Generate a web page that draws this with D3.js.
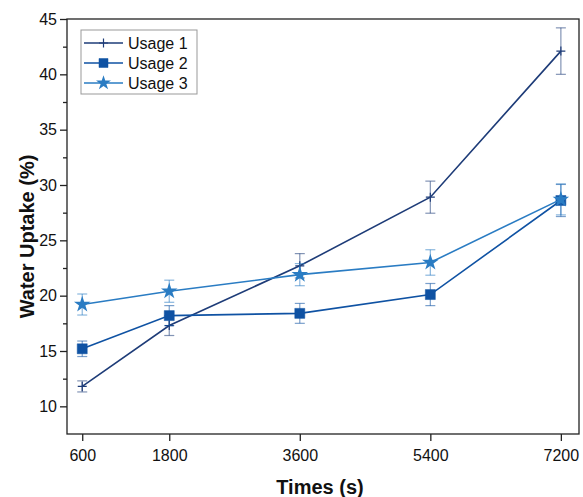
<!DOCTYPE html>
<html><head><meta charset="utf-8">
<script src="https://cdn.jsdelivr.net/npm/d3@7"></script>
<style>body{margin:0;background:#fff}svg{display:block;font-family:"Liberation Sans",Arial,sans-serif}</style>
</head><body><svg id="c" width="583" height="497"></svg>
<script>
const times = [600, 1800, 3600, 5400, 7200];
const seriesNames = ["Usage 1", "Usage 2", "Usage 3"];
const usage1 = [11.8, 17.3, 22.7, 28.9, 42.1];
const usage1Err = [0.5, 0.9, 1.1, 1.45, 2.1];
const usage2 = [15.2, 18.2, 18.4, 20.1, 28.6];
const usage2Err = [0.7, 0.9, 0.9, 1.0, 1.45];
const usage3 = [19.2, 20.4, 21.9, 23.0, 28.7];
const usage3Err = [0.95, 1.0, 1.0, 1.15, 1.4];
const yTicks = [10, 15, 20, 25, 30, 35, 40, 45];
const yMinor = [12.5, 17.5, 22.5, 27.5, 32.5, 37.5, 42.5];
const colors = ["#1e3c78", "#0f52a3", "#2a7cc3"];

const svg = d3.select("#c");
const L = 67, R = 579, T = 19, B = 434;
const x = d3.scaleLinear().domain([390, 7450]).range([L, R]);
const y = d3.scaleLinear().domain([7.5, 45]).range([B, T]);

// axes
const gy = svg.append("g").attr("transform", `translate(${L},0)`)
  .call(d3.axisLeft(y).tickValues(yTicks).tickSize(7).tickPadding(3).tickFormat(d3.format("d")));
const gym = svg.append("g").attr("transform", `translate(${L},0)`)
  .call(d3.axisLeft(y).tickValues(yMinor).tickSize(4).tickFormat(""));
const gx = svg.append("g").attr("transform", `translate(0,${B})`)
  .call(d3.axisBottom(x).tickValues(times).tickSize(7).tickPadding(9).tickFormat(d3.format("d")));
[gy, gym, gx].forEach(g => {
  g.select(".domain").remove();
  g.selectAll("line").attr("stroke", "#222").attr("stroke-width", 1.3);
  g.selectAll("text").attr("font-size", 16).attr("fill", "#111").attr("font-family", "Liberation Sans, Arial, sans-serif");
});
// frame
svg.append("rect").attr("x", L).attr("y", T).attr("width", R - L).attr("height", B - T)
  .attr("fill", "none").attr("stroke", "#222").attr("stroke-width", 1.3);

// titles
svg.append("text").attr("x", (L + R) / 2 - 3).attr("y", 494).attr("text-anchor", "middle")
  .attr("font-size", 20).attr("font-weight", "bold").attr("fill", "#111").text("Times (s)");
svg.append("text").attr("transform", `translate(27,${(T + B) / 2 + 10}) rotate(-90)`).attr("text-anchor", "middle")
  .attr("dominant-baseline", "central")
  .attr("font-size", 20).attr("font-weight", "bold").attr("fill", "#111").text("Water Uptake (%)");

const allVals = [usage1, usage2, usage3];
const allErr = [usage1Err, usage2Err, usage3Err];
const line = d3.line().x(d => x(d.t)).y(d => y(d.v));

function marker(g, k, cx, cy, scale) {
  const c = colors[k];
  if (k === 0) {
    const s = 4.5 * scale;
    g.append("path").attr("d", `M${cx - s},${cy}H${cx + s}M${cx},${cy - s}V${cy + s}`)
      .attr("stroke", c).attr("stroke-width", 1.2).attr("fill", "none");
  } else if (k === 1) {
    g.append("path").attr("d", d3.symbol(d3.symbolSquare, 100 * scale * scale)())
      .attr("transform", `translate(${cx},${cy})`).attr("fill", c).attr("stroke", c).attr("stroke-width", 0.5);
  } else {
    g.append("path").attr("d", d3.symbol(d3.symbolStar, 85 * scale * scale)())
      .attr("transform", `translate(${cx},${cy})`).attr("fill", c);
  }
}

for (let k = 0; k < 3; k++) {
  const data = times.map((t, i) => ({ t, v: allVals[k][i], e: allErr[k][i] }));
  const g = svg.append("g");
  const eb = g.append("g").attr("stroke", colors[k]).attr("stroke-opacity", 0.55).attr("stroke-width", 1.2);
  data.forEach(d => {
    const xx = x(d.t), y1 = y(d.v + d.e), y0 = y(d.v - d.e);
    eb.append("line").attr("x1", xx).attr("x2", xx).attr("y1", y1).attr("y2", y0);
    eb.append("line").attr("x1", xx - 5).attr("x2", xx + 5).attr("y1", y1).attr("y2", y1);
    eb.append("line").attr("x1", xx - 5).attr("x2", xx + 5).attr("y1", y0).attr("y2", y0);
  });
  g.append("path").datum(data).attr("d", line).attr("fill", "none")
    .attr("stroke", colors[k]).attr("stroke-width", 1.6);
  data.forEach(d => marker(g, k, x(d.t), y(d.v), 1));
}

// legend
const lg = svg.append("g");
lg.append("rect").attr("x", 81).attr("y", 30).attr("width", 116).attr("height", 64)
  .attr("fill", "#fff").attr("stroke", "#999").attr("stroke-width", 1);
seriesNames.forEach((n, k) => {
  const yy = 43 + k * 20;
  lg.append("line").attr("x1", 84).attr("x2", 123).attr("y1", yy).attr("y2", yy)
    .attr("stroke", colors[k]).attr("stroke-width", 1.6);
  marker(lg, k, 103.5, yy, k === 0 ? 1 : 0.9);
  lg.append("text").attr("x", 128).attr("y", yy).attr("dominant-baseline", "central")
    .attr("font-size", 16).attr("fill", "#111").text(n);
});
</script></body></html>
